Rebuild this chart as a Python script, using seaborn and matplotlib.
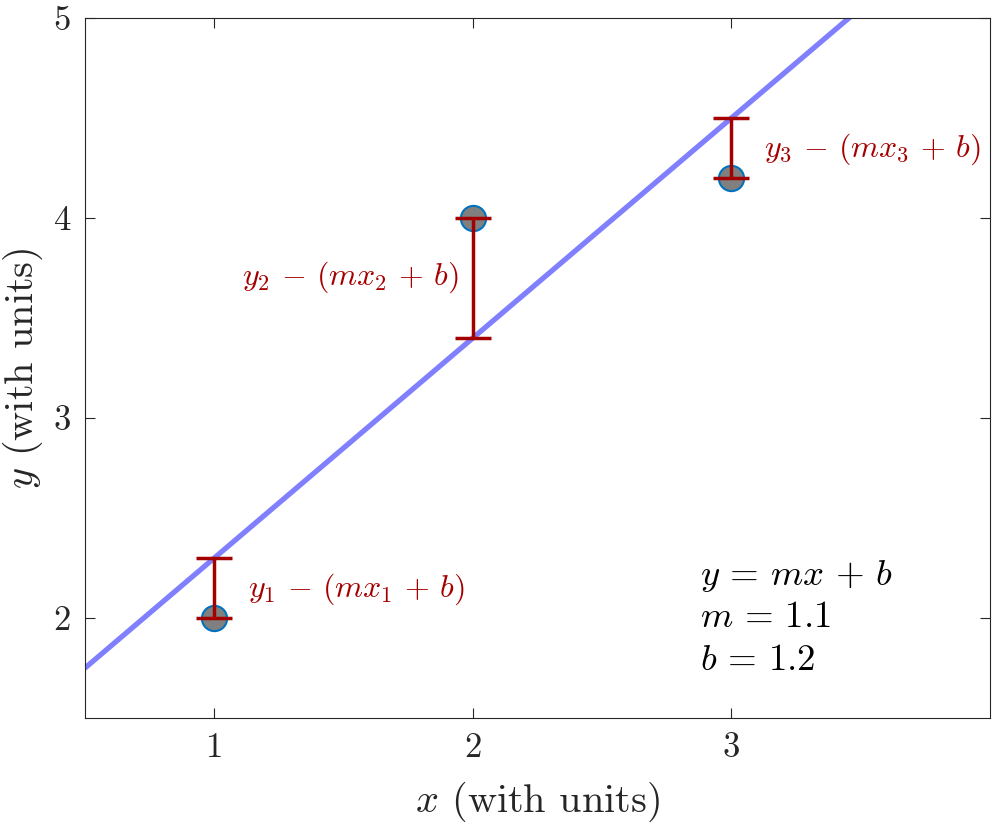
import numpy as np
import pandas as pd
import matplotlib
matplotlib.use("Agg")
import matplotlib.pyplot as plt
import seaborn as sns

# data
x_pts = [1, 2, 3]
y_pts = [2.0, 4.0, 4.2]
m = 1.1
b = 1.2
line_x = [0.5, 4.0]
res_labels = [r"$y_1\,-\,(mx_1\,+\,b)$", r"$y_2\,-\,(mx_2\,+\,b)$", r"$y_3\,-\,(mx_3\,+\,b)$"]
eq_lines = [r"$y\,=\,mx\,+\,b$", r"$m\,=\,1.1$", r"$b\,=\,1.2$"]
x_ticks = [1, 2, 3]
y_ticks = [2, 3, 4, 5]

sns.set_theme(style="ticks")
plt.rcParams.update({
    "font.family": "serif",
    "font.serif": ["cmr10", "DejaVu Serif"],
    "mathtext.fontset": "cm",
    "axes.formatter.use_mathtext": True,
    "axes.linewidth": 0.8,
    "xtick.direction": "in",
    "ytick.direction": "in",
})

fig = plt.figure(figsize=(9.92, 8.27), dpi=100)
ax = fig.add_axes([85/992, 1-718/827, (990-85)/992, (718-18)/827])

line_df = pd.DataFrame({"x": line_x, "y": [m*v + b for v in line_x]})
sns.lineplot(data=line_df, x="x", y="y", ax=ax, color="#8080FF", lw=3.8, zorder=2)

pts = pd.DataFrame({"x": x_pts, "y": y_pts})
fit = [m*v + b for v in x_pts]
lo = [min(y, f) for y, f in zip(y_pts, fit)]
hi = [max(y, f) for y, f in zip(y_pts, fit)]
sns.scatterplot(data=pts, x="x", y="y", ax=ax, s=330, color="#808080",
                edgecolor="#0072BD", linewidth=1.5, zorder=3)
ax.errorbar(x_pts, lo, yerr=[[0]*3, [h - l for h, l in zip(hi, lo)]], fmt="none",
            ecolor="#A50000", elinewidth=2.5, capsize=13, capthick=2.5, zorder=4)

red = "#A50000"
ax.text(1.13, 2.145, res_labels[0], color=red, fontsize=23, ha="left", va="center")
ax.text(1.946, 3.705, res_labels[1], color=red, fontsize=23, ha="right", va="center")
ax.text(3.127, 4.345, res_labels[2], color=red, fontsize=23, ha="left", va="center")

for yy, t in zip([2.21, 2.005, 1.79], eq_lines):
    ax.text(2.88, yy, t, fontsize=26.5, ha="left", va="center", color="black")

ax.set_xlim(0.5, 4.0)
ax.set_ylim(1.5, 5.0)
ax.set_xticks(x_ticks)
ax.set_yticks(y_ticks)
ax.set_xticklabels([str(t) for t in x_ticks])
ax.set_yticklabels([str(t) for t in y_ticks])
ax.tick_params(axis="both", labelsize=25, top=True, right=True, length=7, width=0.8, pad=10)
for s in ax.spines.values():
    s.set_visible(True)
    s.set_color("#262626")
ax.set_xlabel(r"$x$ (with units)", fontsize=29, labelpad=12)
ax.set_ylabel(r"$y$ (with units)", fontsize=29, labelpad=6)

fig.savefig("out.png", dpi=100)
